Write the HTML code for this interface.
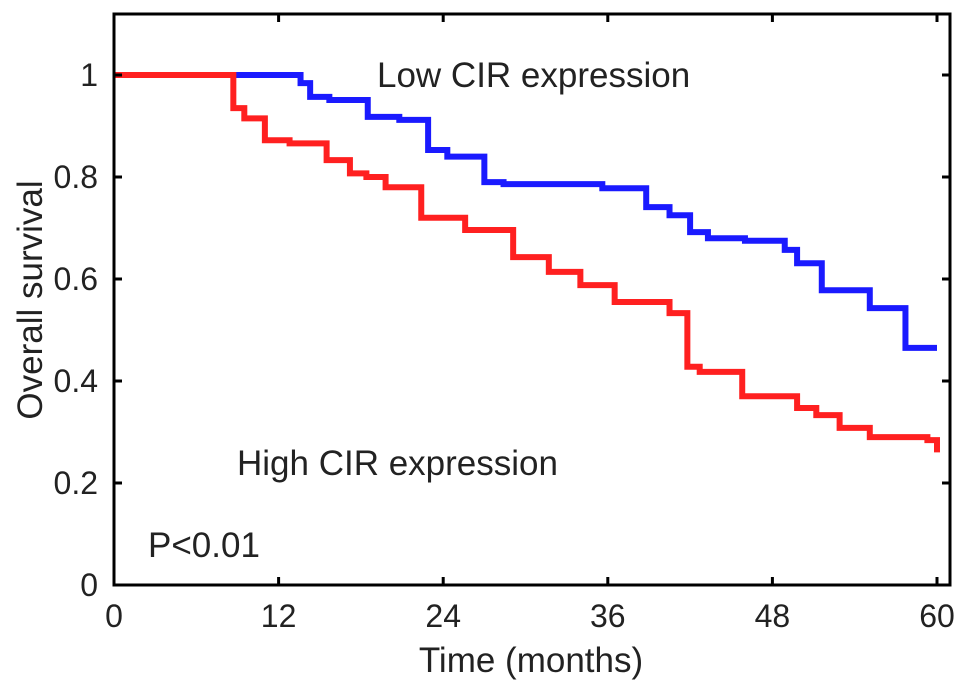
<!DOCTYPE html>
<html><head><meta charset="utf-8"><style>
html,body{margin:0;padding:0;background:#fff;}
svg{display:block;font-family:"Liberation Sans",Arial,sans-serif;}
</style></head><body>
<svg id="chart" width="969" height="693"></svg>
<script>
const xTicks=[0,12,24,36,48,60];
const yTicks=[0,0.2,0.4,0.6,0.8,1];
const yTickLabels=["0","0.2","0.4","0.6","0.8","1"];
const lowTimes=[0,13.6,14.3,15.7,18.5,20.8,22.9,24.3,27,28.4,35.6,38.8,40.5,42,43.3,46,48.9,49.8,51.6,55.1,57.7,60];
const lowSurv=[1,0.984,0.957,0.951,0.918,0.912,0.853,0.84,0.79,0.786,0.778,0.741,0.725,0.692,0.68,0.675,0.657,0.631,0.578,0.543,0.465,0.465];
const highTimes=[0,8.7,9.5,11,12.8,15.5,17.2,18.4,19.8,22.4,25.6,29.1,31.7,34,36.5,40.5,41.8,42.7,45.8,49.8,51.2,52.9,55.1,59.3,60];
const highSurv=[1,0.935,0.915,0.872,0.866,0.833,0.807,0.8,0.78,0.72,0.696,0.643,0.614,0.588,0.555,0.533,0.428,0.418,0.37,0.347,0.333,0.308,0.29,0.284,0.26];
const NS="http://www.w3.org/2000/svg";
const svg=document.getElementById('chart');
const X0=114,XR=950,YB=585,YT=14;
const sx=t=>X0+t*(937-X0)/60;
const sy=s=>YB-s*510;
function mk(tag,attrs,parent){const e=document.createElementNS(NS,tag);for(const k in attrs)e.setAttribute(k,attrs[k]);(parent||svg).appendChild(e);return e;}
function stepPath(ts,ss){let d=`M${sx(ts[0])},${sy(ss[0])}`;for(let i=1;i<ts.length;i++){d+=` H${sx(ts[i])} V${sy(ss[i])}`;}return d;}
const blue=mk('path',{d:stepPath(lowTimes,lowSurv),fill:'none',stroke:'#1a1aff','stroke-width':6});


const red=mk('path',{d:stepPath(highTimes,highSurv),fill:'none',stroke:'#ff2020','stroke-width':6});


const frame=mk('rect',{x:X0,y:YT,width:XR-X0,height:YB-YT,fill:'none',stroke:'#000','stroke-width':3});


xTicks.forEach(t=>{
  mk('line',{x1:sx(t),x2:sx(t),y1:YB,y2:YB-8,stroke:'#000','stroke-width':3});
  mk('line',{x1:sx(t),x2:sx(t),y1:YT,y2:YT+8,stroke:'#000','stroke-width':3});
  const l=mk('text',{x:sx(t),y:YB+42,'font-size':32,'text-anchor':'middle',fill:'#222'});
  l.textContent=t;
  
  
});
yTicks.forEach((v,i)=>{
  mk('line',{x1:X0,x2:X0+8,y1:sy(v),y2:sy(v),stroke:'#000','stroke-width':3});
  mk('line',{x1:XR,x2:XR-8,y1:sy(v),y2:sy(v),stroke:'#000','stroke-width':3});
  const l=mk('text',{x:X0-16,y:sy(v)+11,'font-size':32,'text-anchor':'end',fill:'#222'});
  l.textContent=yTickLabels[i];
  
  
});
const xt=mk('text',{x:531,y:672,'font-size':35,'text-anchor':'middle',fill:'#222'});
xt.textContent='Time (months)';


const yt=mk('text',{x:0,y:0,'font-size':35,'text-anchor':'middle',fill:'#222',transform:'translate(42,300) rotate(-90)'});
yt.textContent='Overall survival';


const a=mk('text',{x:377,y:87,'font-size':35,fill:'#222'});
a.textContent='Low CIR expression';


const b=mk('text',{x:237,y:475,'font-size':35,fill:'#222'});
b.textContent='High CIR expression';


const p=mk('text',{x:148,y:557,'font-size':35,fill:'#222'});
p.textContent='P<0.01';


</script>
</body></html>
